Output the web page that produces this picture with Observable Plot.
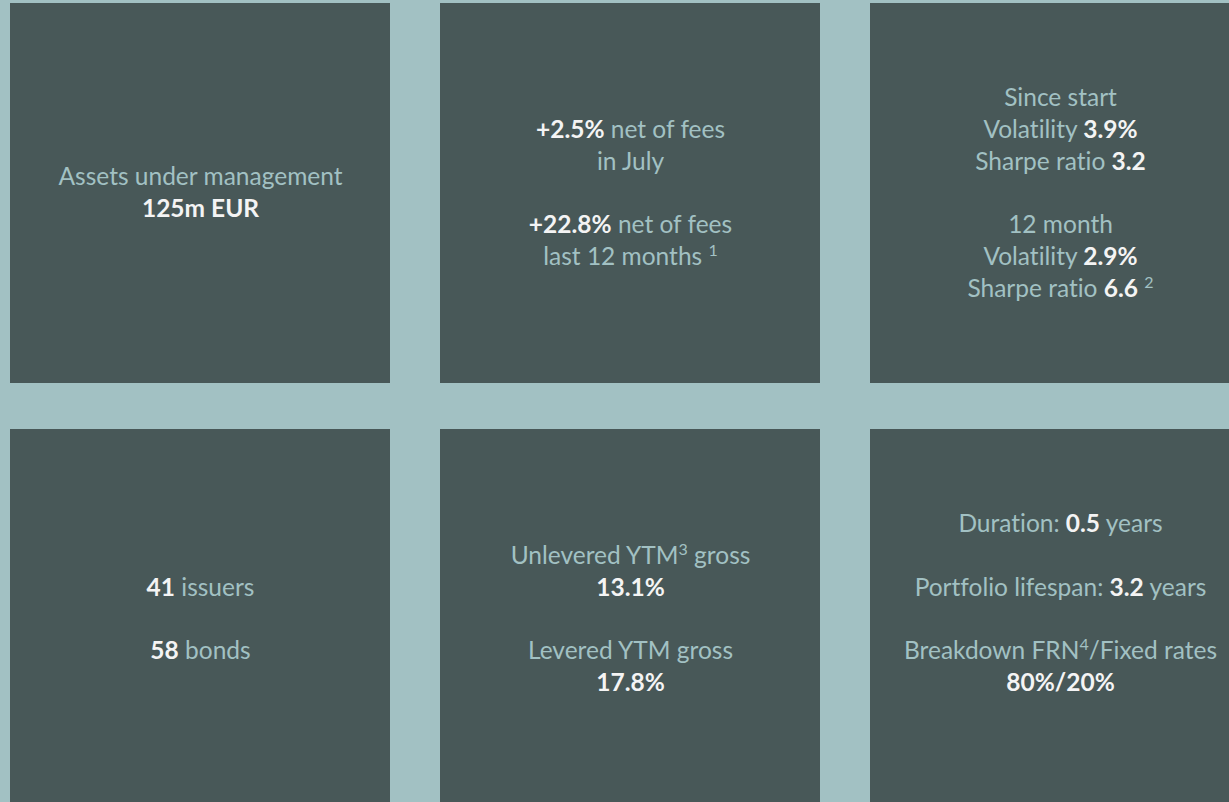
<!DOCTYPE html>
<html>
<head>
<meta charset="utf-8">
<script src="https://cdn.jsdelivr.net/npm/d3@7"></script>
<script src="https://cdn.jsdelivr.net/npm/@observablehq/plot@0.6"></script>
<style>
  html, body { margin: 0; padding: 0; background: #a2c1c3; overflow: hidden; }
  #chart svg { display: block; }
  #chart svg text { font-variant-ligatures: none; font-feature-settings: "liga" 0, "clig" 0; }
</style>
</head>
<body>
<div id="chart"></div>
<script>
// ---- Data ----
const tileIds  = ["aum", "returns", "risk", "holdings", "yield", "structure"];
const tileCols = [0, 1, 2, 0, 1, 2];
const tileRows = [0, 0, 0, 1, 1, 1];

// "**...**" marks the highlighted (bold, white) figures, "^...^" a footnote superscript
const aumLines       = ["Assets under management", "**125m EUR**"];
const returnLines    = ["**+2.5%** net of fees", "in July", "", "**+22.8%** net of fees", "last 12 months ^1^"];
const riskLines      = ["Since start", "Volatility **3.9%**", "Sharpe ratio **3.2**", "", "12 month", "Volatility **2.9%**", "Sharpe ratio **6.6** ^2^"];
const holdingLines   = ["**41** issuers", "", "**58** bonds"];
const yieldLines     = ["Unlevered YTM^3^ gross", "**13.1%**", "", "Levered YTM gross", "**17.8%**"];
const structureLines = ["Duration: **0.5** years", "", "Portfolio lifespan: **3.2** years", "", "Breakdown FRN^4^/Fixed rates", "**80%/20%**", ""];
const tileLines = [aumLines, returnLines, riskLines, holdingLines, yieldLines, structureLines];

// ---- Layout ----
const W = 1229, H = 802;
const tileSize = 380, colStep = 430, rowStep = 426, originX = 10, originY = 3;
const lineH = 31.8, fontSize = 24.5, supSize = 16, supShift = 9;
const bg = "#a2c1c3", tileFill = "#485858", dimText = "#a2c1c3", boldText = "#f4f4f4";

const supMap = {"1": "¹", "2": "²", "3": "³", "4": "⁴"};
const tiles = tileIds.map((id, i) => ({id, col: tileCols[i], row: tileRows[i]}));
const lines = [];
tiles.forEach((t, ti) => {
  const ls = tileLines[ti];
  ls.forEach((s, li) => {
    if (s === "") return;
    lines.push({
      tile: t, idx: li, n: ls.length, markup: s,
      plain: s.replace(/\*\*/g, "").replace(/\^([^^]+)\^/g, (_, k) => supMap[k] || k)
    });
  });
});

const tileX = t => originX + t.col * colStep;
const tileY = t => originY + t.row * rowStep;

const plot = Plot.plot({
  width: W,
  height: H,
  margin: 0,
  x: {domain: [0, W], range: [0, W], axis: null},
  y: {domain: [0, H], range: [0, H], axis: null},
  style: {background: bg, fontFamily: "Lato, 'Open Sans', sans-serif", overflow: "hidden"},
  marks: [
    Plot.rect(tiles, {
      x1: t => tileX(t),
      x2: t => tileX(t) + tileSize,
      y1: t => tileY(t),
      y2: t => tileY(t) + tileSize,
      fill: tileFill
    }),
    Plot.text(lines, {
      x: d => tileX(d.tile) + tileSize / 2,
      y: d => tileY(d.tile) + tileSize / 2 + (d.idx - (d.n - 1) / 2) * lineH,
      text: d => d.plain,
      fill: dimText,
      fontSize: fontSize,
      textAnchor: "middle"
    })
  ]
});

// Rebuild each label with bold highlighted segments and superscripts
d3.select(plot).selectAll("g[aria-label='text'] text").each(function(_, i) {
  const d = lines[i];
  const el = d3.select(this);
  el.text(null);
  let shifted = false;
  d.markup.split(/(\*\*[^*]+\*\*|\^[^^]+\^)/).filter(s => s.length).forEach(seg => {
    let ts;
    if (seg.startsWith("**")) {
      ts = el.append("tspan").text(seg.slice(2, -2)).attr("font-weight", 700).attr("fill", boldText);
      if (shifted) { ts.attr("dy", supShift); shifted = false; }
    } else if (seg.startsWith("^")) {
      ts = el.append("tspan").text(seg.slice(1, -1)).attr("font-size", supSize).attr("dy", -supShift);
      shifted = true;
    } else {
      ts = el.append("tspan").text(seg);
      if (shifted) { ts.attr("dy", supShift); shifted = false; }
    }
  });
});

document.getElementById("chart").appendChild(plot);
</script>
</body>
</html>
